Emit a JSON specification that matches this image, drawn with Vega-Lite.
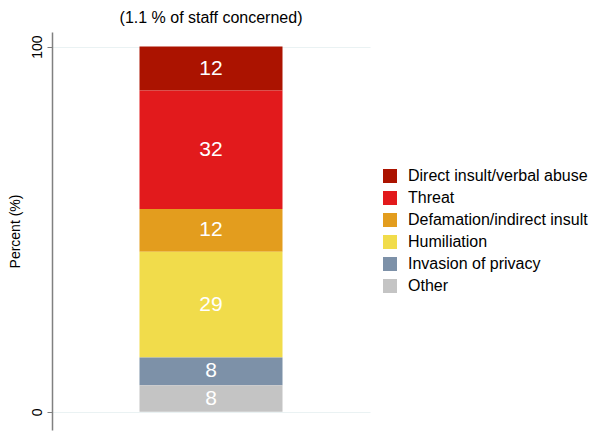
{
  "$schema": "https://vega.github.io/schema/vega-lite/v6.json",
  "width": 318,
  "height": 398,
  "autosize": "none",
  "padding": {"left": 52, "top": 32, "right": 241, "bottom": 11},
  "background": "white",
  "config": {
    "font": "Liberation Sans",
    "view": {"stroke": null}
  },
  "title": {
    "text": "(1.1 % of staff concerned)",
    "fontSize": 16,
    "fontWeight": "normal",
    "color": "#000000",
    "anchor": "middle",
    "offset": 6
  },
  "data": {
    "values": [
      {"category": "Direct insult/verbal abuse", "value": 12.05, "label": "12", "order": 6},
      {"category": "Threat", "value": 32.4, "label": "32", "order": 5},
      {"category": "Defamation/indirect insult", "value": 11.7, "label": "12", "order": 4},
      {"category": "Humiliation", "value": 29.0, "label": "29", "order": 3},
      {"category": "Invasion of privacy", "value": 7.6, "label": "8", "order": 2},
      {"category": "Other", "value": 7.25, "label": "8", "order": 1}
    ]
  },
  "encoding": {
    "x": {"datum": "bar", "type": "nominal", "axis": null, "scale": {"domain": ["bar"]}},
    "y": {
      "field": "value",
      "type": "quantitative",
      "stack": "zero",
      "scale": {"domain": [-5, 104], "nice": false, "zero": false},
      "axis": {
        "title": "Percent (%)",
        "titleFontSize": 14,
        "titleFontWeight": "normal",
        "titleColor": "#000000",
        "titlePadding": 8,
        "values": [0, 100],
        "labelAngle": -90,
        "labelAlign": "center",
        "labelBaseline": "bottom",
        "labelFontSize": 14,
        "labelColor": "#000000",
        "labelPadding": 3,
        "tickSize": 5,
        "tickColor": "#808080",
        "domainColor": "#808080",
        "domainWidth": 1.5,
        "grid": true,
        "gridColor": "#EAF2F3",
        "gridWidth": 1.2
      }
    },
    "order": {"field": "order", "type": "quantitative", "sort": "ascending"}
  },
  "layer": [
    {
      "mark": {"type": "bar", "width": 143, "strokeWidth": 0},
      "encoding": {
        "color": {
          "field": "category",
          "type": "nominal",
          "sort": null,
          "scale": {
            "domain": ["Direct insult/verbal abuse", "Threat", "Defamation/indirect insult", "Humiliation", "Invasion of privacy", "Other"],
            "range": ["#AB1300", "#E21A1C", "#E39D1E", "#F1DC4B", "#7D91A8", "#C4C4C4"]
          },
          "legend": {
            "title": null,
            "orient": "none",
            "legendX": 330,
            "legendY": 136,
            "symbolType": "square",
            "symbolSize": 196,
            "symbolStrokeWidth": 0,
            "labelFontSize": 16,
            "labelColor": "#000000",
            "rowPadding": 6,
            "labelOffset": 10,
            "labelLimit": 300
          }
        }
      }
    },
    {
      "mark": {"type": "text", "color": "white", "fontSize": 21, "baseline": "middle", "align": "center"},
      "encoding": {
        "y": {"field": "value", "type": "quantitative", "stack": "zero", "bandPosition": 0.5},
        "text": {"field": "label", "type": "nominal"}
      }
    }
  ]
}
